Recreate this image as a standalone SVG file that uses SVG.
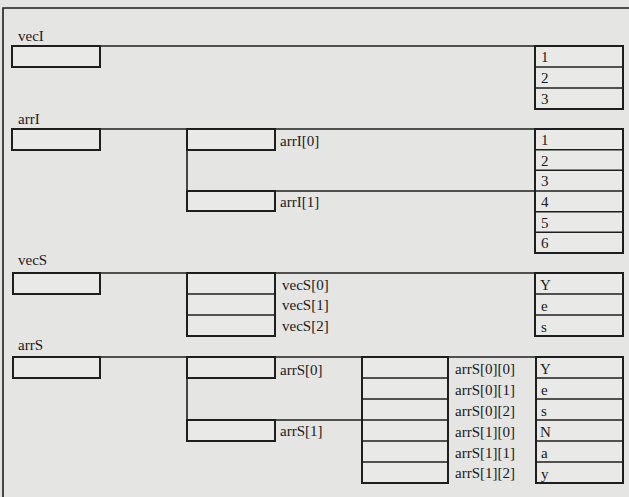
<svg xmlns="http://www.w3.org/2000/svg" width="629" height="497" viewBox="0 0 629 497">
<style>
.bg{fill:#e5e5e3}
.box{fill:#e9e9e7;stroke:#1e1e1e;stroke-width:2}
.sep{stroke:#1e1e1e;stroke-width:1.5}
.ln{stroke:#1e1e1e;stroke-width:1.6;fill:none}
text{font-family:"Liberation Serif","Times New Roman",serif;font-size:15px;fill:#1a1a1a}
</style>
<rect class="bg" x="0" y="0" width="629" height="497"/>
<g id="frame">
<path class="ln" d="M3,497 V8 H629" stroke-width="2"/>
</g>
<g id="connectors">
<path class="ln" d="M100,46 H535"/>
<path class="ln" d="M100,129 H535"/>
<path class="ln" d="M187,150 V191"/>
<path class="ln" d="M275,191 H535"/>
<path class="ln" d="M100,273 H535"/>
<path class="ln" d="M100,357 H536"/>
<path class="ln" d="M187,378 V420"/>
<path class="ln" d="M275,420 H362"/>
</g>
<g id="vecI">
<text x="18" y="41">vecI</text>
<rect class="box" x="12" y="46" width="88" height="21"/>
</g>
<g id="vecI-data">
<rect class="box" x="535" y="46" width="88" height="63"/>
<line class="sep" x1="535" y1="67" x2="623" y2="67"/>
<line class="sep" x1="535" y1="88" x2="623" y2="88"/>
<text x="541" y="62">1</text>
<text x="541" y="83">2</text>
<text x="541" y="104">3</text>
</g>
<g id="arrI">
<text x="18" y="124">arrI</text>
<rect class="box" x="12" y="129" width="88" height="21"/>
</g>
<g id="arrI0">
<rect class="box" x="187" y="129" width="88" height="21"/>
<text x="280" y="146">arrI[0]</text>
</g>
<g id="arrI1">
<rect class="box" x="187" y="191" width="88" height="20"/>
<text x="280" y="207">arrI[1]</text>
</g>
<g id="arrI-data">
<rect class="box" x="535" y="129" width="88" height="124"/>
<line class="sep" x1="535" y1="149.7" x2="623" y2="149.7"/>
<line class="sep" x1="535" y1="170.3" x2="623" y2="170.3"/>
<line class="sep" x1="535" y1="191" x2="623" y2="191"/>
<line class="sep" x1="535" y1="211.7" x2="623" y2="211.7"/>
<line class="sep" x1="535" y1="232.3" x2="623" y2="232.3"/>
<text x="541" y="145">1</text>
<text x="541" y="166">2</text>
<text x="541" y="186">3</text>
<text x="541" y="207">4</text>
<text x="541" y="228">5</text>
<text x="541" y="248">6</text>
</g>
<g id="vecS">
<text x="18" y="265">vecS</text>
<rect class="box" x="13" y="273" width="87" height="21"/>
</g>
<g id="vecS-elems">
<rect class="box" x="187" y="273" width="88" height="63"/>
<line class="sep" x1="187" y1="294" x2="275" y2="294"/>
<line class="sep" x1="187" y1="315" x2="275" y2="315"/>
<text x="282" y="290">vecS[0]</text>
<text x="282" y="310">vecS[1]</text>
<text x="282" y="331">vecS[2]</text>
</g>
<g id="vecS-data">
<rect class="box" x="535" y="273" width="88" height="63"/>
<line class="sep" x1="535" y1="294" x2="623" y2="294"/>
<line class="sep" x1="535" y1="315" x2="623" y2="315"/>
<text x="540" y="290">Y</text>
<text x="541" y="311">e</text>
<text x="541" y="332">s</text>
</g>
<g id="arrS">
<text x="18" y="350">arrS</text>
<rect class="box" x="13" y="357" width="87" height="21"/>
</g>
<g id="arrS0">
<rect class="box" x="187" y="357" width="88" height="21"/>
<text x="280" y="375">arrS[0]</text>
</g>
<g id="arrS1">
<rect class="box" x="187" y="420" width="88" height="21"/>
<text x="280" y="436">arrS[1]</text>
</g>
<g id="arrS-elems">
<rect class="box" x="362" y="357" width="86" height="126"/>
<line class="sep" x1="362" y1="378" x2="448" y2="378"/>
<line class="sep" x1="362" y1="399" x2="448" y2="399"/>
<line class="sep" x1="362" y1="420" x2="448" y2="420"/>
<line class="sep" x1="362" y1="441" x2="448" y2="441"/>
<line class="sep" x1="362" y1="462" x2="448" y2="462"/>
<text x="455" y="374">arrS[0][0]</text>
<text x="455" y="395">arrS[0][1]</text>
<text x="455" y="416">arrS[0][2]</text>
<text x="455" y="437">arrS[1][0]</text>
<text x="455" y="458">arrS[1][1]</text>
<text x="455" y="478">arrS[1][2]</text>
</g>
<g id="arrS-data">
<rect class="box" x="536" y="357" width="87" height="126"/>
<line class="sep" x1="536" y1="378" x2="623" y2="378"/>
<line class="sep" x1="536" y1="399" x2="623" y2="399"/>
<line class="sep" x1="536" y1="420" x2="623" y2="420"/>
<line class="sep" x1="536" y1="441" x2="623" y2="441"/>
<line class="sep" x1="536" y1="462" x2="623" y2="462"/>
<text x="540" y="374">Y</text>
<text x="541" y="395">e</text>
<text x="541" y="416">s</text>
<text x="540" y="437">N</text>
<text x="541" y="458">a</text>
<text x="541" y="479">y</text>
</g>
</svg>
